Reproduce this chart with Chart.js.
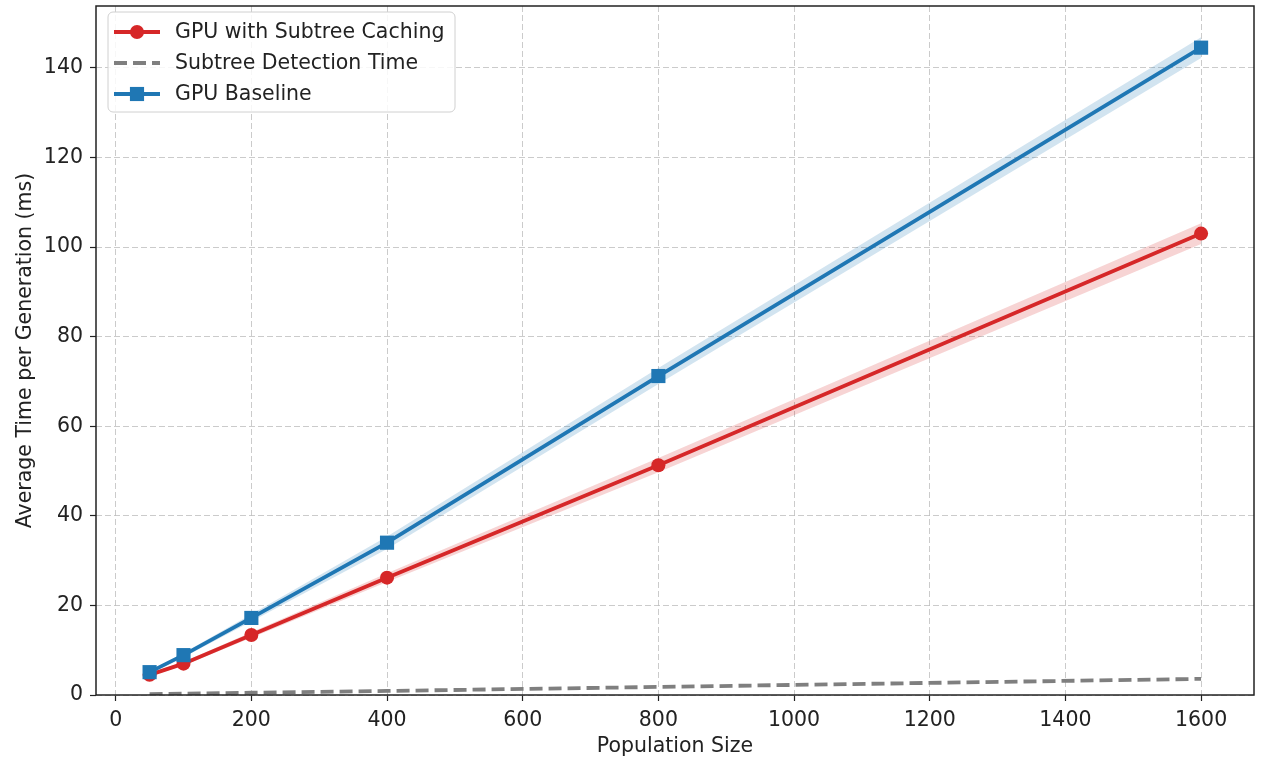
<!DOCTYPE html>
<html>
<head>
<meta charset="utf-8">
<script src="https://cdn.jsdelivr.net/npm/chart.js@4/dist/chart.umd.min.js"></script>
<style>
  html, body { margin: 0; padding: 0; background: #fff; }
  #wrap { width: 1264px; height: 759px; }
</style>
</head>
<body>
<div id="wrap"><canvas id="chart" width="1264" height="759"></canvas></div>
<script>
// Données
const popSizes = [50, 100, 200, 400, 800, 1600];
const cachingMean = [4.5, 7.0, 13.4, 26.2, 51.3, 103.0];
const cachingStd = [0.3, 0.4, 0.6, 1.0, 1.6, 2.3];
const baselineMean = [5.1, 8.9, 17.2, 34.0, 71.2, 144.5];
const baselineStd = [0.3, 0.5, 0.8, 1.4, 1.8, 2.3];
const detectionTime = [0.2, 0.3, 0.5, 0.9, 1.8, 3.6];

const xTitle = 'Population Size';
const yTitle = 'Average Time per Generation (ms)';

const RED = '#d62728';
const BLUE = '#1f77b4';
const GRAY = '#7f7f7f';
const FONT = 'DejaVu Sans';
const FSIZE = 20.5;

function pts(xs, ys) {
    return xs.map((x, i) => ({ x: x, y: ys[i] }));
}
function band(mean, std, sign) {
    return mean.map((m, i) => m + sign * std[i]);
}

function bandSet(ys, color, fill) {
    return {
        data: pts(popSizes, ys),
        borderWidth: 0,
        pointRadius: 0,
        backgroundColor: color,
        fill: fill,
        order: 10,
        isBand: true,
    };
}

// Cadre complet autour de la zone du graphique
const framePlugin = {
    id: 'frame',
    afterDraw(chart) {
        const { ctx, chartArea: a } = chart;
        ctx.save();
        ctx.strokeStyle = '#222';
        ctx.lineWidth = 1.5;
        ctx.strokeRect(a.left, a.top, a.right - a.left, a.bottom - a.top);
        ctx.restore();
    },
};

// Légende façon matplotlib (ligne + marqueur)
const legendPlugin = {
    id: 'mplLegend',
    afterDraw(chart) {
        const ctx = chart.ctx;
        const items = chart.data.datasets.filter(d => !d.isBand);
        const x0 = 108, y0 = 12, w = 347, h = 100, r = 5;
        ctx.save();
        ctx.beginPath();
        ctx.roundRect(x0, y0, w, h, r);
        ctx.fillStyle = 'rgba(255,255,255,0.85)';
        ctx.fill();
        ctx.strokeStyle = '#d0d0d0';
        ctx.lineWidth = 1;
        ctx.stroke();
        items.forEach((d, i) => {
            const cy = 32 + i * 31;
            ctx.beginPath();
            ctx.setLineDash(d.borderDash || []);
            ctx.strokeStyle = d.borderColor;
            ctx.lineWidth = d.borderWidth;
            ctx.moveTo(114, cy);
            ctx.lineTo(160, cy);
            ctx.stroke();
            ctx.setLineDash([]);
            ctx.fillStyle = d.borderColor;
            if (d.pointStyle === 'circle' && d.pointRadius > 0) {
                ctx.beginPath();
                ctx.arc(137, cy, d.pointRadius, 0, Math.PI * 2);
                ctx.fill();
            } else if (d.pointStyle === 'rect' && d.pointRadius > 0) {
                const s = d.pointRadius * Math.SQRT1_2;
                ctx.fillRect(137 - s, cy - s, 2 * s, 2 * s);
            }
            ctx.fillStyle = '#222';
            ctx.font = FSIZE + 'px "' + FONT + '"';
            ctx.textBaseline = 'middle';
            ctx.fillText(d.label, 175, cy + 1);
        });
        ctx.restore();
    },
};

const ctx = document.getElementById('chart').getContext('2d');
new Chart(ctx, {
    type: 'line',
    data: {
        datasets: [
            {
                label: 'GPU with Subtree Caching',
                data: pts(popSizes, cachingMean),
                borderColor: RED,
                backgroundColor: RED,
                borderWidth: 3.8,
                pointStyle: 'circle',
                pointRadius: 7,
                pointBorderWidth: 0,
                order: 1,
            },
            {
                label: 'Subtree Detection Time',
                data: pts(popSizes, detectionTime),
                borderColor: GRAY,
                backgroundColor: GRAY,
                borderWidth: 3.8,
                borderDash: [13, 6],
                pointRadius: 0,
                order: 2,
            },
            {
                label: 'GPU Baseline',
                data: pts(popSizes, baselineMean),
                borderColor: BLUE,
                backgroundColor: BLUE,
                borderWidth: 3.8,
                pointStyle: 'rect',
                pointRadius: 10,
                pointBorderWidth: 0,
                order: 0,
            },
            bandSet(band(cachingMean, cachingStd, -1), 'rgba(214,39,40,0.2)', false),
            bandSet(band(cachingMean, cachingStd, 1), 'rgba(214,39,40,0.2)', '-1'),
            bandSet(band(baselineMean, baselineStd, -1), 'rgba(31,119,180,0.2)', false),
            bandSet(band(baselineMean, baselineStd, 1), 'rgba(31,119,180,0.2)', '-1'),
        ],
    },
    options: {
        responsive: false,
        animation: false,
        devicePixelRatio: 1,
        layout: { autoPadding: false, padding: { left: 0, right: 10, top: 6, bottom: 0 } },
        plugins: {
            legend: { display: false },
            tooltip: { enabled: false },
        },
        elements: { line: { tension: 0 } },
        scales: {
            x: {
                type: 'linear',
                min: -29,
                max: 1678,
                afterFit(scale) {
                    scale.height = 64;
                    scale.paddingLeft = 0;
                    scale.paddingRight = 0;
                },
                ticks: {
                    stepSize: 200,
                    includeBounds: false,
                    color: '#222',
                    font: { family: FONT, size: FSIZE },
                    padding: 7,
                    maxRotation: 0,
                    callback: v => String(v),
                },
                grid: {
                    color: 'rgba(190,190,190,0.8)',
                    borderDash: [6, 3],
                    tickColor: '#222',
                    tickLength: 6,
                    tickWidth: 1.2,
                },
                border: { display: false, dash: [6, 3] },
                title: {
                    display: true,
                    text: xTitle,
                    color: '#222',
                    font: { family: FONT, size: FSIZE },
                    padding: { top: 0, bottom: 0 },
                },
            },
            y: {
                type: 'linear',
                min: 0,
                max: 153.8,
                afterFit(scale) {
                    scale.width = 96;
                    scale.paddingTop = 0;
                    scale.paddingBottom = 0;
                },
                ticks: {
                    stepSize: 20,
                    includeBounds: false,
                    color: '#222',
                    font: { family: FONT, size: FSIZE },
                    padding: 7,
                    callback: v => String(v),
                },
                grid: {
                    color: 'rgba(190,190,190,0.8)',
                    tickColor: '#222',
                    tickLength: 6,
                    tickWidth: 1.2,
                },
                border: { display: false, dash: [6, 3] },
                title: {
                    display: true,
                    text: yTitle,
                    color: '#222',
                    font: { family: FONT, size: FSIZE },
                    padding: { top: 13, bottom: 0 },
                },
            },
        },
    },
    plugins: [framePlugin, legendPlugin],
});
</script>
</body>
</html>
